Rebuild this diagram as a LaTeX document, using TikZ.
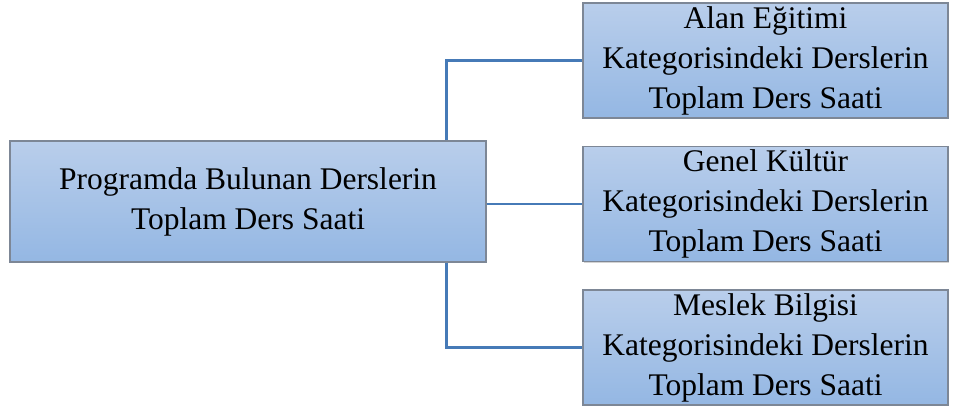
\documentclass[tikz,border=0pt]{standalone}
\usepackage{fontspec}
\setmainfont{Liberation Serif}
\usepackage{tikz}
\usetikzlibrary{calc,positioning,shadows}
\definecolor{boxtop}{RGB}{185,206,235}
\definecolor{boxbot}{RGB}{148,183,227}
\definecolor{boxline}{RGB}{125,135,150}
\definecolor{linkblue}{RGB}{70,122,183}

\begin{document}
\begin{tikzpicture}[x=1pt,y=1pt,node distance=2cm,on grid]
\useasboundingbox (0,0) rectangle (953,407);
\tikzset{catbox/.style={draw=boxline,line width=1.3pt,top color=boxtop,bottom color=boxbot,
  drop shadow={shadow xshift=1.2pt,shadow yshift=-1.2pt,opacity=0.35},
  align=center,inner sep=0pt,font=\fontsize{31.5}{40}\selectfont}}
\tikzset{mainbox/.style={catbox,minimum width=476pt,minimum height=121pt}}
\tikzset{subbox/.style={catbox,minimum width=365pt,minimum height=115pt}}
\tikzset{link/.style={draw=linkblue,line width=2.4pt}}
  \node[mainbox]  (P) at (248,205.5)                {Programda Bulunan Derslerin\\Toplam Ders Saati};
  \node[subbox]   (A) [above right=141pt and 517.5pt of P] {Alan Eğitimi\\Kategorisindeki Derslerin\\Toplam Ders Saati};
  \node[subbox]   (G) [right=517.5pt of P, yshift=-2.5pt]  {Genel Kültür\\Kategorisindeki Derslerin\\Toplam Ders Saati};
  \node[subbox]   (M) [below right=146pt and 517.5pt of P] {Meslek Bilgisi\\Kategorisindeki Derslerin\\Toplam Ders Saati};
\coordinate (Pt) at ($(P.north east)+(-40,0)$);
\coordinate (Pb) at ($(P.south east)+(-40,0)$);
\draw[link] (Pt) |- (A.west);
\draw[link] (P.east |- G.west) -- (G.west);
\draw[link] (Pb) |- (M.west);
\end{tikzpicture}
\end{document}
